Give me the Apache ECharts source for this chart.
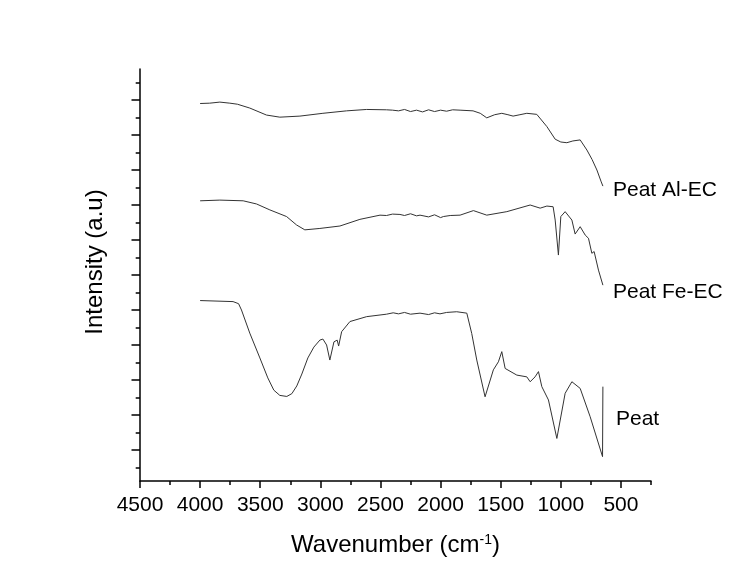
<!DOCTYPE html>
<html>
<head>
<meta charset="utf-8">
<script src="https://cdn.jsdelivr.net/npm/echarts@6/dist/echarts.min.js"></script>
<style>html,body{margin:0;padding:0;background:#fff;}#c{width:747px;height:562px;}</style>
</head>
<body>
<div id="c"></div>
<script>
// ---- data (wavenumber, intensity a.u.) ----
const alWn  = [4000,3920,3836,3753,3690,3587,3448,3337,3170,2979,2782,2615,2450,2400,2350,2300,2250,2200,2150,2100,2050,2000,1950,1900,1838,1730,1670,1616,1550,1491,1440,1397,1340,1283,1200,1116,1047,1000,950,900,839,783,740,700,664,650];
const alVal = [9.90,9.91,9.94,9.91,9.88,9.77,9.57,9.51,9.54,9.62,9.69,9.73,9.72,9.71,9.69,9.73,9.67,9.71,9.66,9.72,9.67,9.71,9.68,9.72,9.71,9.69,9.62,9.49,9.58,9.62,9.58,9.54,9.58,9.62,9.59,9.24,8.88,8.80,8.78,8.83,8.86,8.57,8.30,8.00,7.66,7.54];

const feWn  = [4000,3836,3642,3531,3420,3281,3198,3129,3004,2837,2671,2504,2450,2400,2338,2300,2250,2200,2171,2100,2050,2000,1977,1920,1838,1727,1616,1449,1255,1172,1116,1064,1047,1020,1000,964,908,881,839,797,770,742,723,687,650];
const feVal = [7.12,7.14,7.12,7.03,6.86,6.67,6.43,6.29,6.33,6.40,6.59,6.71,6.70,6.74,6.73,6.70,6.75,6.69,6.71,6.66,6.72,6.64,6.67,6.70,6.71,6.84,6.71,6.81,7.00,6.91,6.97,6.95,6.57,5.57,6.67,6.81,6.57,6.17,6.38,6.14,6.05,5.62,5.67,5.14,4.71];

const peatWn  = [4000,3726,3680,3656,3587,3503,3437,3387,3337,3279,3237,3196,3154,3104,3054,3004,2979,2948,2921,2887,2860,2848,2823,2754,2615,2450,2394,2350,2300,2250,2171,2100,2050,2005,1950,1866,1782,1741,1699,1630,1561,1519,1491,1463,1366,1283,1255,1214,1186,1158,1103,1033,964,908,839,756,653,650];
const peatVal = [4.27,4.24,4.18,4.00,3.34,2.63,2.06,1.71,1.56,1.53,1.61,1.83,2.17,2.63,2.94,3.14,3.17,3.00,2.57,3.09,3.14,2.97,3.38,3.67,3.81,3.88,3.92,3.89,3.93,3.88,3.91,3.87,3.92,3.89,3.93,3.95,3.91,3.33,2.57,1.52,2.29,2.52,2.81,2.33,2.14,2.09,1.95,2.09,2.24,1.81,1.43,0.33,1.62,1.95,1.76,0.95,-0.19,1.81];

const seriesNames = ['Peat Al-EC','Peat Fe-EC','Peat'];
const xMajor = [500,1000,1500,2000,2500,3000,3500,4000,4500];
const xMinor = [250,750,1250,1750,2250,2750,3250,3750,4250];
const yMajor = [0,1,2,3,4,5,6,7,8,9,10];
const yMinor = [-0.5,0.5,1.5,2.5,3.5,4.5,5.5,6.5,7.5,8.5,9.5,10.5];

function pairs(w, v){ return w.map((x,i)=>[x, v[i]]); }

const FONT = 'Arial, "Liberation Sans", sans-serif';
const chart = echarts.init(document.getElementById('c'), null, {renderer:'canvas'});
const lineCol = '#000';

const baseX = {type:'value', min:250, max:4500, inverse:true, position:'bottom', gridIndex:0, splitLine:{show:false}};
const baseY = {type:'value', min:-0.886, max:10.886, position:'left', gridIndex:0, splitLine:{show:false}};

chart.setOption({
  animation:false,
  backgroundColor:'#fff',
  grid:{left:140, right:96, top:69, bottom:81, containLabel:false},
  xAxis:[
    Object.assign({}, baseX, {
      axisLine:{show:true, onZero:false, lineStyle:{color:lineCol, width:1.5}},
      axisTick:{show:true, inside:false, length:7, customValues:xMajor, lineStyle:{color:lineCol, width:1.5}},
      axisLabel:{show:true, customValues:xMajor, margin:14, color:'#000', fontSize:21, fontFamily:FONT, formatter:v=>String(v)},
      name:'Wavenumber (cm{sup|-1})', nameLocation:'middle', nameGap:52,
      nameTextStyle:{color:'#000', fontSize:24, fontFamily:FONT,
        rich:{sup:{fontSize:14, fontFamily:FONT, color:'#000', verticalAlign:'top'}}}
    }),
    Object.assign({}, baseX, {
      axisLine:{show:false, onZero:false},
      axisTick:{show:true, inside:false, length:4, customValues:xMinor, lineStyle:{color:lineCol, width:1.5}},
      axisLabel:{show:false}
    })
  ],
  yAxis:[
    Object.assign({}, baseY, {
      axisLine:{show:true, onZero:false, lineStyle:{color:lineCol, width:1.5}},
      axisTick:{show:true, inside:false, length:8.5, customValues:yMajor, lineStyle:{color:lineCol, width:1.5}},
      axisLabel:{show:false}
    }),
    Object.assign({}, baseY, {
      axisLine:{show:false, onZero:false},
      axisTick:{show:true, inside:false, length:4.3, customValues:yMinor, lineStyle:{color:lineCol, width:1.5}},
      axisLabel:{show:false}
    })
  ],
  graphic:[
    {type:'text', x:95, y:262, rotation:Math.PI/2,
      style:{text:'Intensity (a.u)', font:'24px '+FONT, fill:'#000', textAlign:'center', textVerticalAlign:'middle'}},
    {type:'text', x:613, y:190, style:{text:seriesNames[0], font:'21px '+FONT, fill:'#000', textAlign:'left', textVerticalAlign:'middle'}},
    {type:'text', x:613, y:292.5, style:{text:seriesNames[1], font:'21px '+FONT, fill:'#000', textAlign:'left', textVerticalAlign:'middle'}},
    {type:'text', x:616, y:419, style:{text:seriesNames[2], font:'21px '+FONT, fill:'#000', textAlign:'left', textVerticalAlign:'middle'}}
  ],
  series:[
    {name:seriesNames[0], type:'line', xAxisIndex:0, yAxisIndex:0, data:pairs(alWn, alVal), showSymbol:false, symbol:'none', lineStyle:{color:'#333', width:1}},
    {name:seriesNames[1], type:'line', xAxisIndex:0, yAxisIndex:0, data:pairs(feWn, feVal), showSymbol:false, symbol:'none', lineStyle:{color:'#333', width:1}},
    {name:seriesNames[2], type:'line', xAxisIndex:0, yAxisIndex:0, data:pairs(peatWn, peatVal), showSymbol:false, symbol:'none', lineStyle:{color:'#333', width:1}}
  ]
});
</script>
</body>
</html>
